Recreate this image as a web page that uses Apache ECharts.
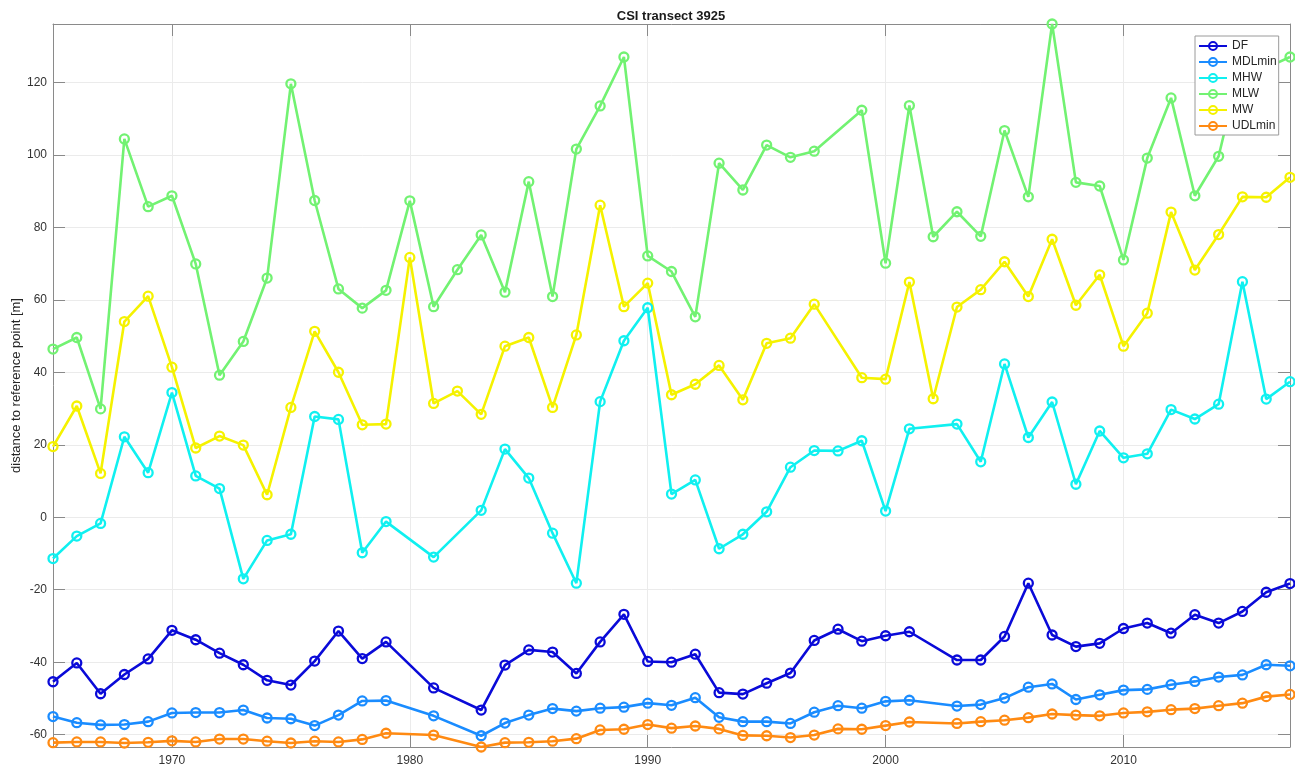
<!DOCTYPE html>
<html>
<head>
<meta charset="utf-8">
<title>CSI transect 3925</title>
<script src="https://cdn.jsdelivr.net/npm/echarts@6/dist/echarts.min.js"></script>
<style>
  html, body { margin: 0; padding: 0; background: #fff; }
  #chart { width: 1295px; height: 766px; }
</style>
</head>
<body>
<div id="chart"></div>
<script>
// Survey years (two sets: the mean-water lines have 1980/1982/2002 but not 1998)
const yearsA = [1965,1966,1967,1968,1969,1970,1971,1972,1973,1974,1975,1976,1977,1978,1979,
  1981,
  1983,1984,1985,1986,1987,1988,1989,1990,1991,1992,1993,1994,1995,1996,1997,1998,1999,2000,2001,
  2003,2004,2005,2006,2007,2008,2009,2010,2011,2012,2013,2014,2015,2016,2017];
const yearsB = [1965,1966,1967,1968,1969,1970,1971,1972,1973,1974,1975,1976,1977,1978,1979,
  1980,1981,1982,1983,1984,1985,1986,1987,1988,1989,1990,1991,1992,1993,1994,1995,1996,1997,
  1999,2000,2001,2002,2003,2004,2005,2006,2007,2008,2009,2010,2011,2012,2013,2014,2015,2016,2017];

// Distance to reference point [m]
const DF = [-45.4,-40.2,-48.7,-43.4,-39.1,-31.2,-33.8,-37.5,-40.7,-45.0,-46.3,-39.7,-31.4,-39.0,-34.4,
  -47.1,
  -53.2,-40.8,-36.6,-37.2,-43.1,-34.4,-26.8,-39.8,-40.0,-37.8,-48.4,-48.8,-45.8,-43.0,-34.0,-30.9,-34.2,-32.7,-31.6,
  -39.4,-39.4,-32.9,-18.2,-32.5,-35.7,-34.8,-30.7,-29.2,-32.0,-26.9,-29.2,-26.0,-20.7,-18.3];
const MDLmin = [-55.0,-56.7,-57.3,-57.2,-56.4,-54.0,-53.9,-53.9,-53.2,-55.4,-55.6,-57.5,-54.6,-50.7,-50.6,
  -54.8,
  -60.3,-56.8,-54.6,-52.8,-53.5,-52.7,-52.4,-51.3,-51.9,-49.8,-55.2,-56.4,-56.4,-56.9,-53.8,-52.0,-52.7,-50.8,-50.5,
  -52.1,-51.7,-49.9,-46.9,-46.0,-50.3,-49.0,-47.7,-47.5,-46.2,-45.3,-44.1,-43.5,-40.7,-41.0];
const MHW = [-11.4,-5.2,-1.7,22.2,12.3,34.4,11.4,7.9,-17.0,-6.4,-4.7,27.8,27.0,-9.8,-1.2,
  -11.0,
  1.9,18.8,10.8,-4.4,-18.2,31.9,48.7,57.8,6.4,10.3,-8.7,-4.7,1.5,13.8,18.4,18.3,21.1,1.7,24.4,
  25.7,15.3,42.3,22.0,31.8,9.1,23.8,16.4,17.5,29.7,27.1,31.2,65.0,32.6,37.4];
const UDLmin = [-62.2,-62.0,-62.0,-62.3,-62.1,-61.7,-62.0,-61.2,-61.2,-61.8,-62.3,-61.8,-62.0,-61.3,-59.6,
  -60.1,
  -63.4,-62.2,-62.1,-61.8,-61.1,-58.7,-58.5,-57.2,-58.2,-57.6,-58.4,-60.2,-60.3,-60.8,-60.1,-58.4,-58.5,-57.5,-56.5,
  -56.9,-56.4,-56.0,-55.3,-54.3,-54.6,-54.8,-54.0,-53.7,-53.1,-52.8,-52.0,-51.3,-49.5,-48.9];
const MLW = [46.4,49.6,29.9,104.4,85.7,88.7,69.9,39.2,48.5,66.0,119.6,87.4,63.0,57.7,62.6,
  87.3,58.1,68.3,77.9,62.1,92.6,60.9,101.6,113.5,127.0,72.1,67.8,55.3,97.7,90.3,102.7,99.3,101.0,
  112.3,70.1,113.6,77.4,84.3,77.5,106.7,88.4,136.1,92.4,91.4,71.0,99.1,115.7,88.7,99.6,127.0,124.0,127.0];
const MW = [19.5,30.7,12.1,54.0,61.0,41.4,19.1,22.4,19.9,6.2,30.3,51.3,40.0,25.5,25.7,
  71.7,31.4,34.8,28.4,47.2,49.6,30.3,50.3,86.1,58.1,64.6,33.8,36.7,41.9,32.4,48.0,49.4,58.8,
  38.5,38.1,64.9,32.7,58.0,62.8,70.5,60.9,76.7,58.5,66.9,47.2,56.3,84.2,68.2,78.0,88.4,88.3,93.8];

const seriesDefs = [
  { name: 'DF',     years: yearsA, values: DF,     color: '#0a0ad8' },
  { name: 'MDLmin', years: yearsA, values: MDLmin, color: '#1a8cff' },
  { name: 'MHW',    years: yearsA, values: MHW,    color: '#10f0f0' },
  { name: 'MLW',    years: yearsB, values: MLW,    color: '#72f272' },
  { name: 'MW',     years: yearsB, values: MW,     color: '#f5f200' },
  { name: 'UDLmin', years: yearsA, values: UDLmin, color: '#ff8a12' }
];

// Tight axis limits, as in the original plot
const allVals = [].concat(DF, MDLmin, MHW, UDLmin, MLW, MW);
const yMin = Math.min.apply(null, allVals);
const yMax = Math.max.apply(null, allVals);
const xMin = Math.min(yearsA[0], yearsB[0]);
const xMax = Math.max(yearsA[yearsA.length - 1], yearsB[yearsB.length - 1]);

const FONT = '"Liberation Sans", Arial, Helvetica, sans-serif';
const frameColor = '#8a8a8a';
const gridColor = '#ebebeb';
const labelColor = '#333333';

function xAxisDef(pos, withLabels) {
  return {
    type: 'value', position: pos, min: xMin, max: xMax,
    splitNumber: 5, minInterval: 10, maxInterval: 10,
    axisLine: { show: true, onZero: false, lineStyle: { color: frameColor, width: 1 } },
    axisTick: { show: true, inside: true, length: 12, lineStyle: { color: frameColor } },
    axisLabel: {
      show: withLabels, showMinLabel: false, showMaxLabel: false,
      formatter: v => String(v), color: labelColor, fontSize: 12, fontFamily: FONT, margin: 8
    },
    splitLine: { show: withLabels, lineStyle: { color: gridColor, width: 1 } }
  };
}
function yAxisDef(pos, withLabels) {
  const ax = {
    type: 'value', position: pos, min: yMin, max: yMax,
    splitNumber: 10, minInterval: 20, maxInterval: 20,
    axisLine: { show: true, onZero: false, lineStyle: { color: frameColor, width: 1 } },
    axisTick: { show: true, inside: true, length: 12, lineStyle: { color: frameColor } },
    axisLabel: {
      show: withLabels, showMinLabel: false, showMaxLabel: false,
      color: labelColor, fontSize: 12, fontFamily: FONT, margin: 6
    },
    splitLine: { show: withLabels, lineStyle: { color: gridColor, width: 1 } }
  };
  if (withLabels) {
    ax.name = 'distance to reference point [m]';
    ax.nameLocation = 'middle';
    ax.nameGap = 30;
    ax.nameMoveOverlap = false;
    ax.nameRotate = 90;
    ax.nameTextStyle = { color: '#262626', fontSize: 13, fontFamily: FONT };
  }
  return ax;
}

const chart = echarts.init(document.getElementById('chart'), null, { renderer: 'canvas' });
chart.setOption({
  animation: false,
  backgroundColor: '#ffffff',
  grid: { left: 53, right: 5, top: 24, bottom: 19, containLabel: false, outerBoundsMode: 'none' },
  graphic: [{
    type: 'text', x: 671, y: 16, z: 10,
    style: {
      text: 'CSI transect 3925', fill: '#1a1a1a',
      font: 'bold 13px ' + FONT, textAlign: 'center', textVerticalAlign: 'middle'
    }
  }],
  legend: {
    orient: 'vertical', left: 1195, top: 36,
    padding: [2, 2, 1, 3], itemWidth: 28, itemHeight: 10, itemGap: 0,
    backgroundColor: '#ffffff', borderColor: '#9a9a9a', borderWidth: 1, borderRadius: 0,
    textStyle: { color: '#262626', fontSize: 12, fontFamily: FONT, lineHeight: 16 },
    data: seriesDefs.map(s => s.name)
  },
  xAxis: [xAxisDef('bottom', true), xAxisDef('top', false)],
  yAxis: [yAxisDef('left', true), yAxisDef('right', false)],
  series: seriesDefs.map(s => ({
    name: s.name,
    type: 'line',
    xAxisIndex: 0, yAxisIndex: 0,
    data: s.years.map((yr, i) => [yr, s.values[i]]),
    symbol: 'circle',
    symbolSize: 9,
    showAllSymbol: true,
    color: s.color,
    lineStyle: { color: s.color, width: 2.6 },
    itemStyle: { color: 'rgba(255,255,255,0)', borderColor: s.color, borderWidth: 2.3 },
    emphasis: { disabled: true }
  }))
});
</script>
</body>
</html>
